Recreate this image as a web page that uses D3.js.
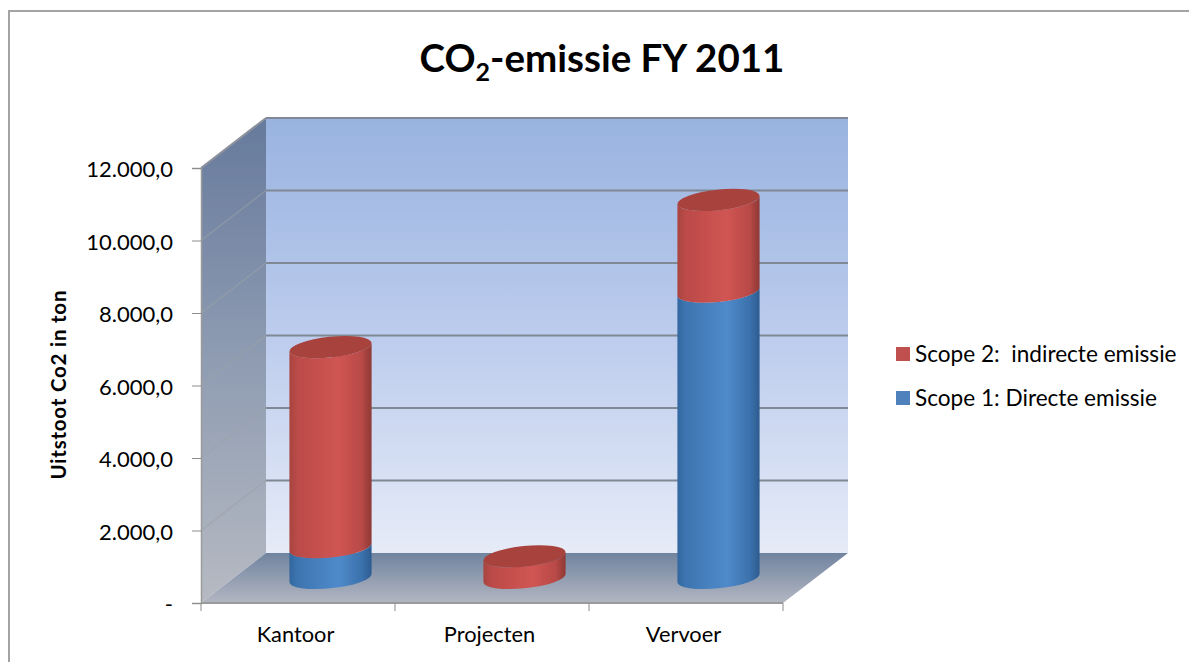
<!DOCTYPE html>
<html><head><meta charset="utf-8">
<script src="https://cdn.jsdelivr.net/npm/d3@7/dist/d3.min.js"></script>
<style>html,body{margin:0;padding:0;background:#fff}svg{display:block;font-family:Lato,"Open Sans",sans-serif}</style>
</head><body><svg id="c" width="1189" height="662"></svg>
<script>
const categories = ["Kantoor","Projecten","Vervoer"];
const scope1 = [850, 0, 7900];
const scope2 = [5520, 600, 2530];
const seriesNames = ["Scope 2:  indirecte emissie","Scope 1: Directe emissie"];
const yTicks = [0,2000,4000,6000,8000,10000,12000];
const tickLabels = ["-","2.000,0","4.000,0","6.000,0","8.000,0","10.000,0","12.000,0"];

const svg = d3.select("#c");
const defs = svg.append("defs");
function vgrad(id, stops){
  const g = defs.append("linearGradient").attr("id",id).attr("x1",0).attr("y1",0).attr("x2",0).attr("y2",1);
  stops.forEach(s=>g.append("stop").attr("offset",s[0]).attr("stop-color",s[1]));
}
function hgrad(id, stops){
  const g = defs.append("linearGradient").attr("id",id).attr("x1",0).attr("y1",0).attr("x2",1).attr("y2",0);
  stops.forEach(s=>g.append("stop").attr("offset",s[0]).attr("stop-color",s[1]));
}
vgrad("wall",[[0,"#99b3e0"],[0.5,"#bccced"],[1,"#e6ebf7"]]);
vgrad("side",[[0,"#667a9c"],[0.5,"#8f9cb2"],[1,"#b6bac2"]]);
vgrad("floor",[[0,"#71849f"],[1,"#b2b6c2"]]);
hgrad("red",[[0,"#a8433f"],[0.1,"#bb4b48"],[0.6,"#d05553"],[0.88,"#b84a47"],[1,"#8e3835"]]);
hgrad("blue",[[0,"#33679f"],[0.1,"#3d75b0"],[0.6,"#4f8acb"],[0.88,"#3b72ac"],[1,"#2d5c90"]]);
defs.append("filter").attr("id","soft").append("feGaussianBlur").attr("stdDeviation",0.7);

// chart frame: only top and left edges are visible
svg.append("path").attr("d","M9,662V11H1189").attr("fill","none").attr("stroke","#a3a3a3").attr("stroke-width",2);

const x = d3.scaleBand().domain(categories).range([201,783]);
const y = d3.scaleLinear().domain([0,12000]).range([603,168]);
const depthX = 65, depthY = -50;
const x0 = x.range()[0], x1 = x.range()[1], y0 = y(0), yT = y(12000);
const poly = pts => "M"+pts.map(p=>p.join(",")).join("L")+"Z";

// walls
const walls = svg.append("g").attr("filter","url(#soft)");
walls.append("path").attr("d",poly([[x0+depthX,yT+depthY],[x1+depthX,yT+depthY],[x1+depthX,y0+depthY],[x0+depthX,y0+depthY]])).attr("fill","url(#wall)");
walls.append("path").attr("d",poly([[x0,yT],[x0+depthX,yT+depthY],[x0+depthX,y0+depthY],[x0,y0]])).attr("fill","url(#side)");
walls.append("path").attr("d",poly([[x0,y0],[x0+depthX,y0+depthY],[x1+depthX,y0+depthY],[x1,y0]])).attr("fill","url(#floor)");

// gridlines
yTicks.slice(1).forEach(t=>{
  const yy = y(t);
  walls.append("line").attr("x1",x0+depthX).attr("x2",x1+depthX).attr("y1",yy+depthY).attr("y2",yy+depthY)
    .attr("stroke","#7f8894").attr("stroke-width",2);
  if(t<12000) walls.append("line").attr("x1",x0).attr("x2",x0+depthX).attr("y1",yy).attr("y2",yy+depthY)
    .attr("stroke","#9aa2a8").attr("stroke-opacity",.55).attr("stroke-width",1.5);
});
walls.append("line").attr("x1",x0).attr("x2",x0+depthX).attr("y1",yT).attr("y2",yT+depthY).attr("stroke","#8d929c").attr("stroke-width",2);

// axes
const gy = svg.append("g").attr("transform",`translate(${x0},0)`)
  .call(d3.axisLeft(y).tickValues(yTicks).tickSize(9).tickPadding(17).tickFormat((d,i)=>tickLabels[i]));
gy.select(".domain").attr("stroke","#9a9a9a").attr("stroke-width",1.5);
gy.selectAll(".tick line").attr("stroke","#8c8c8c");
gy.selectAll("text").attr("font-size",22).attr("fill","#000").attr("font-family","Lato").attr("x",-28).attr("y",1.5);

const gx = svg.append("g").attr("transform",`translate(0,${y0})`)
  .call(d3.axisBottom(x).tickSize(0).tickPadding(24));
gx.select(".domain").attr("stroke","#9a9a9a").attr("stroke-width",2).attr("d",`M${x0},0H${x1}`);
gx.selectAll("text").attr("font-size",21.8).attr("fill","#000").attr("font-family","Lato").attr("x",-2.5);
[x0,...categories.map(c=>x(c)+x.bandwidth())].forEach(v=>
  gx.append("line").attr("x1",v).attr("x2",v).attr("y1",0).attr("y2",8).attr("stroke","#8c8c8c"));

// cylinders
const rx = 41.3, ry = 10.3, rot = -6;
const phi = rot*Math.PI/180;
const xExt = Math.hypot(rx*Math.cos(phi), ry*Math.sin(phi));      // half width of the tilted ellipse
const tx = (rx*rx-ry*ry)*Math.abs(Math.sin(phi))*Math.cos(phi)/xExt; // y-offset of its vertical tangent points
const baseOffset = 25;            // bar base sits mid-way into the floor depth
const dxMid = 32.5;               // matching horizontal shift of the bar centres
const bars = svg.append("g").attr("filter","url(#soft)");
const cy = v => y(v) - baseOffset;
function segment(cx, vLo, vHi, fill){
  const l = cx-xExt, r = cx+xExt;
  const yLo = cy(vLo), yHi = cy(vHi);
  bars.append("path")
    .attr("d",`M${l},${yHi+tx}L${l},${yLo+tx}A${rx},${ry} ${rot} 0 0 ${r},${yLo-tx}L${r},${yHi-tx}A${rx},${ry} ${rot} 0 1 ${l},${yHi+tx}Z`)
    .attr("fill",fill);
}
categories.forEach((c,i)=>{
  const cx = x(c)+x.bandwidth()/2 + dxMid;
  const a = scope1[i], b = a+scope2[i];
  if(a>0) segment(cx,0,a,"url(#blue)");
  segment(cx,a,b,"url(#red)");
  bars.append("ellipse").attr("cx",cx).attr("cy",cy(b)).attr("rx",rx).attr("ry",ry)
    .attr("transform",`rotate(${rot} ${cx} ${cy(b)})`).attr("fill","#a8423e");
});

// title
const title = svg.append("text").attr("x",602).attr("y",72).attr("text-anchor","middle")
  .attr("font-size",38.5).attr("font-weight",700).attr("font-family","Lato").attr("fill","#000");
title.append("tspan").text("CO");
title.append("tspan").attr("font-size",25).attr("dy",9).text("2");
title.append("tspan").attr("dy",-9).text("-emissie FY 2011");

// y axis title
svg.append("text").attr("transform","translate(66,385) rotate(-90)").attr("text-anchor","middle")
  .attr("font-size",20.5).attr("font-weight",700).attr("font-family","Lato").attr("fill","#000")
  .attr("textLength",189).text("Uitstoot Co2 in ton");

// legend
const legendColors = ["#c0504d","#4f81bd"];
const legendY = d3.scalePoint().domain(seriesNames).range([354,398]);
seriesNames.forEach((n,i)=>{
  const g = svg.append("g").attr("transform",`translate(896,${legendY(n)})`);
  g.append("rect").attr("y",-7).attr("width",14).attr("height",14).attr("fill",legendColors[i]);
  g.append("text").attr("x",19).attr("y",8).attr("font-size",22.6).attr("font-family","Lato").attr("fill","#000").style("white-space","pre").text(n);
});
</script></body></html>
